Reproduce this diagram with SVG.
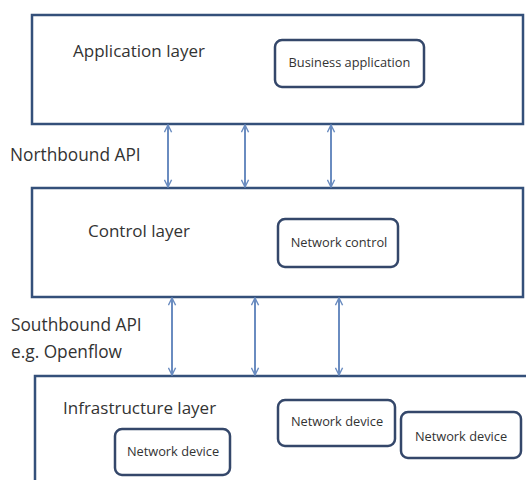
<svg xmlns="http://www.w3.org/2000/svg" width="526" height="480" viewBox="0 0 526 480">
<defs>
<style>
.layer{fill:#fff;stroke:#34507a;stroke-width:2.5}
.comp{fill:#fff;stroke:#34476a;stroke-width:2.5}
.lt{font-family:"Open Sans","Liberation Sans",sans-serif;font-size:17px;fill:#333}
.ct{font-family:"Open Sans","Liberation Sans",sans-serif;font-size:12.8px;fill:#333;text-anchor:middle}
.api{font-family:"Open Sans","Liberation Sans",sans-serif;font-size:17.3px;fill:#333}
.arr{stroke:#6a8cc0;stroke-width:2;fill:none;marker-start:url(#ah);marker-end:url(#ah)}
</style>
<marker id="ah" viewBox="0 0 10 10" refX="9" refY="5" markerWidth="9" markerHeight="9" orient="auto-start-reverse" markerUnits="userSpaceOnUse">
<path d="M1,1 L9,5 L1,9" fill="none" stroke="#6a8cc0" stroke-width="1.6"/>
</marker>
</defs>
<rect width="526" height="480" fill="#fff"/>
<g id="application-layer">
<rect class="layer" x="32" y="15" width="491" height="109"/>
<text class="lt" x="73" y="57">Application layer</text>
</g>
<g id="business-application">
<rect class="comp" x="275" y="40" width="149" height="47" rx="7"/>
<text class="ct" x="349.5" y="67">Business application</text>
</g>
<g id="control-layer">
<rect class="layer" x="32" y="188" width="491" height="109"/>
<text class="lt" x="88" y="237">Control layer</text>
</g>
<g id="network-control">
<rect class="comp" x="278" y="219" width="120" height="48" rx="7"/>
<text class="ct" x="339" y="247">Network control</text>
</g>
<g id="infrastructure-layer">
<rect class="layer" x="35" y="376" width="500" height="120"/>
<text class="lt" x="63" y="414">Infrastructure layer</text>
</g>
<g id="network-device-1">
<rect class="comp" x="115" y="429" width="115" height="46" rx="7"/>
<text class="ct" x="173" y="456">Network device</text>
</g>
<g id="network-device-2">
<rect class="comp" x="278" y="400" width="117" height="46" rx="7"/>
<text class="ct" x="337" y="426">Network device</text>
</g>
<g id="network-device-3">
<rect class="comp" x="401" y="412" width="120" height="46" rx="7"/>
<text class="ct" x="461" y="441">Network device</text>
</g>
<g id="labels">
<text class="api" x="10" y="161">Northbound API</text>
<text class="api" x="11" y="331">Southbound API</text>
<text class="api" x="11" y="358">e.g. Openflow</text>
</g>
<g id="connectors">
<line class="arr" x1="168" y1="125" x2="168" y2="187"/>
<line class="arr" x1="245" y1="125" x2="245" y2="187"/>
<line class="arr" x1="331" y1="125" x2="331" y2="187"/>
<line class="arr" x1="172" y1="298" x2="172" y2="375"/>
<line class="arr" x1="255" y1="298" x2="255" y2="375"/>
<line class="arr" x1="339" y1="298" x2="339" y2="375"/>
</g>
</svg>
